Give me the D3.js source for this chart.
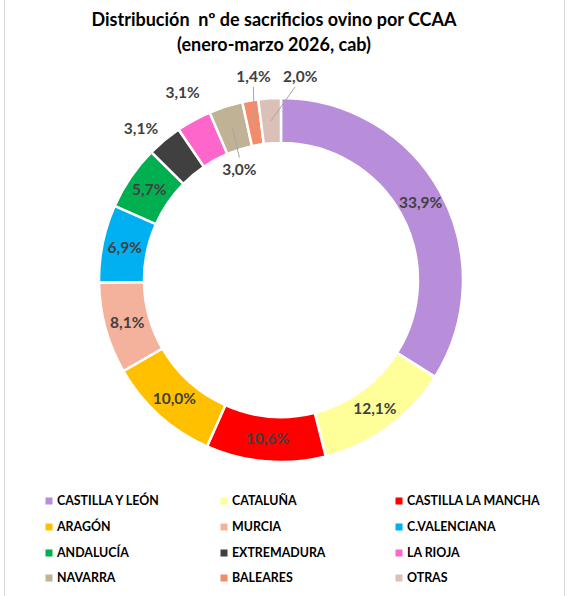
<!doctype html>
<html lang="es">
<head>
<meta charset="utf-8">
<script src="https://d3js.org/d3.v7.min.js"></script>
<style>
  html, body { margin: 0; padding: 0; background: #fff; }
  svg { display: block; font-family: Lato, "Open Sans", sans-serif; }
  .title { white-space: pre; }
</style>
</head>
<body>
<script>
// data
var regions = ["CASTILLA Y LEÓN", "CATALUÑA", "CASTILLA LA MANCHA", "ARAGÓN", "MURCIA",
    "C.VALENCIANA", "ANDALUCÍA", "EXTREMADURA", "LA RIOJA", "NAVARRA", "BALEARES", "OTRAS"];
var shares = [33.9, 12.1, 10.6, 10.0, 8.1, 6.9, 5.7, 3.1, 3.1, 3.0, 1.4, 2.0];
var colors = ["#B88DDA", "#FFFF99", "#FF0000", "#FFC000", "#F4B29C", "#00B0F0",
    "#00B050", "#404040", "#FF66CC", "#BFB295", "#F28C6C", "#DBC0B8"];
var titleLines = ["Distribución  nº de sacrificios ovino por CCAA", "(enero-marzo 2026, cab)"];

// labels that were dragged out of their slice: radius and angle shift (deg)
var movedLabels = {
    "EXTREMADURA": {r: 206, da: -3, line: false},
    "LA RIOJA": {r: 212, da: 1, line: false},
    "NAVARRA": {r: 118, da: -3, line: true},
    "BALEARES": {r: 205, da: 2, line: true},
    "OTRAS": {r: 204, da: 9, line: true}
};

var width = 572, height = 596;
var cx = 281, cy = 280, outerR = 182, innerR = 137;

var svg = d3.select("body").append("svg")
    .attr("width", width)
    .attr("height", height);

// chart border
svg.append("rect")
    .attr("x", 4.5).attr("y", -5)
    .attr("width", 560).attr("height", height + 10)
    .attr("fill", "none")
    .attr("stroke", "#D9D9D9");

// title
svg.append("text")
    .attr("class", "title")
    .attr("x", 274)
    .attr("text-anchor", "middle")
    .attr("font-weight", "bold")
    .attr("font-size", 18)
    .attr("fill", "#000")
    .selectAll("tspan")
    .data(titleLines)
    .enter().append("tspan")
    .attr("x", 274)
    .attr("y", function(d, i) { return 26 + i * 25; })
    .text(function(d) { return d; });

var data = regions.map(function(name, i) {
    return {name: name, value: shares[i], color: colors[i]};
});

var pie = d3.pie()
    .sort(null)
    .value(function(d) { return d.value; });

var arc = d3.arc()
    .innerRadius(innerR)
    .outerRadius(outerR);

var g = svg.append("g")
    .attr("transform", "translate(" + cx + "," + cy + ")");

var arcs = pie(data);

g.selectAll(".slice")
    .data(arcs)
    .enter().append("path")
    .attr("class", "slice")
    .attr("d", arc)
    .attr("fill", function(d) { return d.data.color; })
    .attr("stroke", "#fff")
    .attr("stroke-width", 2.5);

function fmt(v) { return v.toFixed(1).replace(".", ",") + "%"; }

function labelPos(d) {
    var m = movedLabels[d.data.name];
    var a = (d.startAngle + d.endAngle) / 2;
    var r = (innerR + outerR) / 2;
    if (m) { a += m.da * Math.PI / 180; r = m.r; }
    return [r * Math.sin(a), -r * Math.cos(a)];
}

// leader lines
g.selectAll(".leader")
    .data(arcs.filter(function(d) {
        var m = movedLabels[d.data.name];
        return m && m.line;
    }))
    .enter().append("line")
    .attr("class", "leader")
    .attr("x1", function(d) {
        var p = labelPos(d);
        return d.data.name === "OTRAS" ? p[0] - 5 : p[0];
    })
    .attr("y1", function(d) {
        var p = labelPos(d);
        return d.data.name === "NAVARRA" ? p[1] - 12 : p[1] + 10;
    })
    .attr("x2", function(d) { return arc.centroid(d)[0]; })
    .attr("y2", function(d) { return arc.centroid(d)[1]; })
    .attr("stroke", "#A6A6A6")
    .attr("stroke-width", 1);

g.selectAll(".lbl")
    .data(arcs)
    .enter().append("text")
    .attr("class", "lbl")
    .attr("transform", function(d) { return "translate(" + labelPos(d) + ")"; })
    .attr("text-anchor", "middle")
    .attr("dy", "0.35em")
    .attr("font-weight", "bold")
    .attr("font-size", 15.5)
    .attr("fill", "#404040")
    .text(function(d) { return fmt(d.data.value); });

// legend, 3 columns
var colX = [49, 224, 399];
var rowY = [501, 527, 553, 578];

var leg = svg.selectAll(".leg")
    .data(data)
    .enter().append("g")
    .attr("class", "leg")
    .attr("transform", function(d, i) {
        return "translate(" + colX[i % 3] + "," + rowY[Math.floor(i / 3)] + ")";
    });

leg.append("rect")
    .attr("x", -3.5).attr("y", -3.5)
    .attr("width", 7).attr("height", 7)
    .attr("fill", function(d) { return d.color; });

leg.append("text")
    .attr("x", 8)
    .attr("dy", "0.36em")
    .attr("font-weight", "bold")
    .attr("font-size", 12.4)
    .attr("fill", "#000")
    .text(function(d) { return d.name; });
</script>
</body>
</html>
